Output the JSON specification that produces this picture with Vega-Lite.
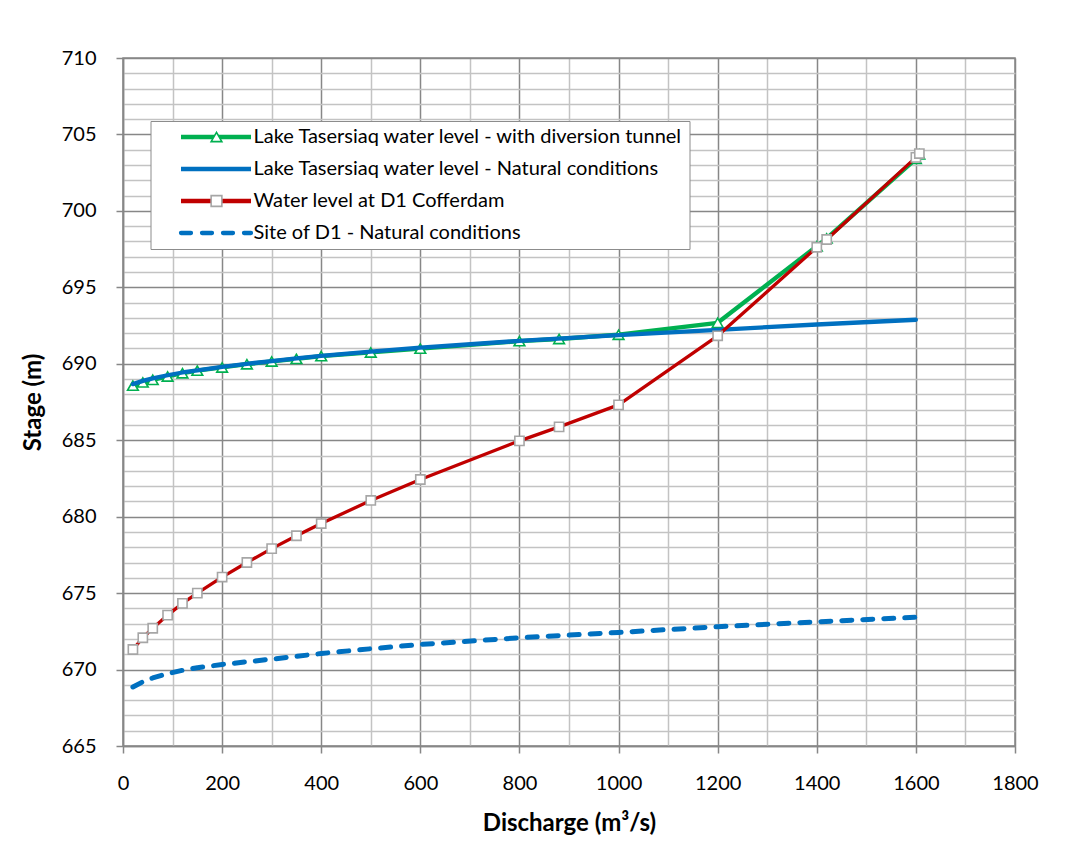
{
  "$schema": "https://vega.github.io/schema/vega-lite/v6.json",
  "autosize": {"type": "none"},
  "padding": {"left": 123, "top": 58, "right": 64, "bottom": 96},
  "width": 892,
  "height": 688,
  "background": "white",
  "config": {
    "font": "Lato",
    "view": {"stroke": "#878787", "strokeWidth": 1.5}
  },
  "data": {
    "values": [
      {"q": 20, "h": 688.57, "s": "Lake Tasersiaq water level - with diversion tunnel"},
      {"q": 40, "h": 688.78, "s": "Lake Tasersiaq water level - with diversion tunnel"},
      {"q": 60, "h": 688.95, "s": "Lake Tasersiaq water level - with diversion tunnel"},
      {"q": 90, "h": 689.17, "s": "Lake Tasersiaq water level - with diversion tunnel"},
      {"q": 120, "h": 689.38, "s": "Lake Tasersiaq water level - with diversion tunnel"},
      {"q": 150, "h": 689.55, "s": "Lake Tasersiaq water level - with diversion tunnel"},
      {"q": 200, "h": 689.76, "s": "Lake Tasersiaq water level - with diversion tunnel"},
      {"q": 250, "h": 689.97, "s": "Lake Tasersiaq water level - with diversion tunnel"},
      {"q": 300, "h": 690.15, "s": "Lake Tasersiaq water level - with diversion tunnel"},
      {"q": 350, "h": 690.32, "s": "Lake Tasersiaq water level - with diversion tunnel"},
      {"q": 400, "h": 690.50, "s": "Lake Tasersiaq water level - with diversion tunnel"},
      {"q": 500, "h": 690.74, "s": "Lake Tasersiaq water level - with diversion tunnel"},
      {"q": 600, "h": 690.99, "s": "Lake Tasersiaq water level - with diversion tunnel"},
      {"q": 800, "h": 691.48, "s": "Lake Tasersiaq water level - with diversion tunnel"},
      {"q": 880, "h": 691.62, "s": "Lake Tasersiaq water level - with diversion tunnel"},
      {"q": 1000, "h": 691.90, "s": "Lake Tasersiaq water level - with diversion tunnel"},
      {"q": 1200, "h": 692.68, "s": "Lake Tasersiaq water level - with diversion tunnel"},
      {"q": 1400, "h": 697.69, "s": "Lake Tasersiaq water level - with diversion tunnel"},
      {"q": 1420, "h": 698.20, "s": "Lake Tasersiaq water level - with diversion tunnel"},
      {"q": 1600, "h": 703.40, "s": "Lake Tasersiaq water level - with diversion tunnel"},
      {"q": 1607, "h": 703.70, "s": "Lake Tasersiaq water level - with diversion tunnel"},
      {"q": 20, "h": 688.67, "s": "Lake Tasersiaq water level - Natural conditions"},
      {"q": 40, "h": 688.88, "s": "Lake Tasersiaq water level - Natural conditions"},
      {"q": 60, "h": 689.05, "s": "Lake Tasersiaq water level - Natural conditions"},
      {"q": 90, "h": 689.25, "s": "Lake Tasersiaq water level - Natural conditions"},
      {"q": 120, "h": 689.43, "s": "Lake Tasersiaq water level - Natural conditions"},
      {"q": 150, "h": 689.57, "s": "Lake Tasersiaq water level - Natural conditions"},
      {"q": 200, "h": 689.80, "s": "Lake Tasersiaq water level - Natural conditions"},
      {"q": 250, "h": 690.00, "s": "Lake Tasersiaq water level - Natural conditions"},
      {"q": 300, "h": 690.18, "s": "Lake Tasersiaq water level - Natural conditions"},
      {"q": 350, "h": 690.35, "s": "Lake Tasersiaq water level - Natural conditions"},
      {"q": 400, "h": 690.52, "s": "Lake Tasersiaq water level - Natural conditions"},
      {"q": 500, "h": 690.80, "s": "Lake Tasersiaq water level - Natural conditions"},
      {"q": 600, "h": 691.05, "s": "Lake Tasersiaq water level - Natural conditions"},
      {"q": 800, "h": 691.50, "s": "Lake Tasersiaq water level - Natural conditions"},
      {"q": 1000, "h": 691.88, "s": "Lake Tasersiaq water level - Natural conditions"},
      {"q": 1200, "h": 692.22, "s": "Lake Tasersiaq water level - Natural conditions"},
      {"q": 1400, "h": 692.57, "s": "Lake Tasersiaq water level - Natural conditions"},
      {"q": 1600, "h": 692.88, "s": "Lake Tasersiaq water level - Natural conditions"},
      {"q": 20, "h": 671.31, "s": "Water level at D1 Cofferdam"},
      {"q": 40, "h": 672.08, "s": "Water level at D1 Cofferdam"},
      {"q": 60, "h": 672.70, "s": "Water level at D1 Cofferdam"},
      {"q": 90, "h": 673.56, "s": "Water level at D1 Cofferdam"},
      {"q": 120, "h": 674.33, "s": "Water level at D1 Cofferdam"},
      {"q": 150, "h": 675.00, "s": "Water level at D1 Cofferdam"},
      {"q": 200, "h": 676.05, "s": "Water level at D1 Cofferdam"},
      {"q": 250, "h": 677.00, "s": "Water level at D1 Cofferdam"},
      {"q": 300, "h": 677.91, "s": "Water level at D1 Cofferdam"},
      {"q": 350, "h": 678.75, "s": "Water level at D1 Cofferdam"},
      {"q": 400, "h": 679.55, "s": "Water level at D1 Cofferdam"},
      {"q": 500, "h": 681.06, "s": "Water level at D1 Cofferdam"},
      {"q": 600, "h": 682.43, "s": "Water level at D1 Cofferdam"},
      {"q": 800, "h": 684.96, "s": "Water level at D1 Cofferdam"},
      {"q": 880, "h": 685.87, "s": "Water level at D1 Cofferdam"},
      {"q": 1000, "h": 687.31, "s": "Water level at D1 Cofferdam"},
      {"q": 1200, "h": 691.83, "s": "Water level at D1 Cofferdam"},
      {"q": 1400, "h": 697.62, "s": "Water level at D1 Cofferdam"},
      {"q": 1420, "h": 698.13, "s": "Water level at D1 Cofferdam"},
      {"q": 1600, "h": 703.50, "s": "Water level at D1 Cofferdam"},
      {"q": 1607, "h": 703.75, "s": "Water level at D1 Cofferdam"},
      {"q": 20, "h": 668.86, "s": "Site of D1 - Natural conditions"},
      {"q": 40, "h": 669.20, "s": "Site of D1 - Natural conditions"},
      {"q": 60, "h": 669.45, "s": "Site of D1 - Natural conditions"},
      {"q": 90, "h": 669.73, "s": "Site of D1 - Natural conditions"},
      {"q": 120, "h": 669.95, "s": "Site of D1 - Natural conditions"},
      {"q": 150, "h": 670.12, "s": "Site of D1 - Natural conditions"},
      {"q": 200, "h": 670.33, "s": "Site of D1 - Natural conditions"},
      {"q": 300, "h": 670.68, "s": "Site of D1 - Natural conditions"},
      {"q": 400, "h": 671.05, "s": "Site of D1 - Natural conditions"},
      {"q": 500, "h": 671.36, "s": "Site of D1 - Natural conditions"},
      {"q": 600, "h": 671.64, "s": "Site of D1 - Natural conditions"},
      {"q": 800, "h": 672.08, "s": "Site of D1 - Natural conditions"},
      {"q": 1000, "h": 672.43, "s": "Site of D1 - Natural conditions"},
      {"q": 1200, "h": 672.80, "s": "Site of D1 - Natural conditions"},
      {"q": 1400, "h": 673.12, "s": "Site of D1 - Natural conditions"},
      {"q": 1600, "h": 673.42, "s": "Site of D1 - Natural conditions"}
    ]
  },
  "encoding": {
    "x": {
      "field": "q", "type": "quantitative",
      "scale": {"domain": [0, 1800], "nice": false, "zero": false},
      "axis": {
        "values": [0,100,200,300,400,500,600,700,800,900,1000,1100,1200,1300,1400,1500,1600,1700,1800],
        "format": "d",
        "labelExpr": "datum.value % 200 === 0 ? datum.label : ''",
        "grid": true,
        "gridColor": {"condition": {"test": "datum.value % 200 === 0", "value": "#878787"}, "value": "#c3c3c3"},
        "gridWidth": 1.5,
        "tickColor": "#878787", "tickSize": 7, "tickWidth": 1.5,
        "tickOpacity": {"condition": {"test": "datum.value % 200 === 0", "value": 1}, "value": 0},
        "domainColor": "#878787", "domainWidth": 1.5,
        "labelFont": "Lato", "labelFontSize": 20, "labelColor": "black", "labelPadding": 20,
        "labelFlush": false, "labelOverlap": false,
        "title": "Discharge (m³/s)", "titleFont": "Lato", "titleFontSize": 24, "titleFontWeight": "bold", "titleColor": "black",
        "titleY": 77, "titleBaseline": "middle"
      }
    },
    "y": {
      "field": "h", "type": "quantitative",
      "scale": {"domain": [665, 710], "nice": false, "zero": false},
      "axis": {
        "values": [665,666,667,668,669,670,671,672,673,674,675,676,677,678,679,680,681,682,683,684,685,686,687,688,689,690,691,692,693,694,695,696,697,698,699,700,701,702,703,704,705,706,707,708,709,710],
        "format": "d",
        "labelExpr": "datum.value % 5 === 0 ? datum.label : ''",
        "grid": true,
        "gridColor": {"condition": {"test": "datum.value % 5 === 0", "value": "#878787"}, "value": "#c3c3c3"},
        "gridWidth": 1.5,
        "tickColor": "#878787", "tickSize": 7, "tickWidth": 1.5,
        "tickOpacity": {"condition": {"test": "datum.value % 5 === 0", "value": 1}, "value": 0},
        "domainColor": "#878787", "domainWidth": 1.5,
        "labelFont": "Lato", "labelFontSize": 20, "labelColor": "black", "labelPadding": 20,
        "labelFlush": false, "labelOverlap": false,
        "title": "Stage (m)", "titleFont": "Lato", "titleFontSize": 24, "titleFontWeight": "bold", "titleColor": "black",
        "titleX": -90, "titleY": 344, "titleBaseline": "middle", "titleAngle": -90
      }
    }
  },
  "layer": [
    {
      "transform": [{"filter": {"field": "s", "equal": "Lake Tasersiaq water level - with diversion tunnel"}}],
      "mark": {"type": "line", "strokeWidth": 4.3, "strokeJoin": "round", "strokeCap": "round"},
      "encoding": {
        "color": {
          "field": "s", "type": "nominal",
          "scale": {
            "domain": ["Lake Tasersiaq water level - with diversion tunnel", "Lake Tasersiaq water level - Natural conditions", "Water level at D1 Cofferdam", "Site of D1 - Natural conditions"],
            "range": ["#00B050", "#0070C0", "#C00000", "#0070C0"]
          },
          "legend": {
            "orient": "none", "legendX": 27.5, "legendY": 63, "title": null,
            "padding": 6, "clipHeight": 20, "rowPadding": 12,
            "labelFont": "Lato", "labelFontSize": 20, "labelColor": "black", "labelLimit": 0,
            "symbolType": "stroke", "symbolSize": 4900, "symbolStrokeWidth": 4.3,
            "symbolOffset": 22, "labelOffset": 0,
            "fillColor": "white", "strokeColor": "#8c8c8c", "zindex": 1,
            "encode": {
              "symbols": {
                "update": {
                  "strokeDash": {"signal": "datum.value === 'Site of D1 - Natural conditions' ? [10, 11] : []"},
                  "strokeCap": {"signal": "datum.value === 'Site of D1 - Natural conditions' ? 'round' : 'butt'"}
                }
              }
            }
          }
        }
      }
    },
    {
      "transform": [{"filter": {"field": "s", "equal": "Lake Tasersiaq water level - with diversion tunnel"}}],
      "mark": {"type": "point", "filled": true, "fill": "white", "strokeWidth": 1.6, "size": 115, "opacity": 1},
      "encoding": {
        "shape": {
          "field": "s", "type": "nominal",
          "scale": {
            "domain": ["Lake Tasersiaq water level - with diversion tunnel", "Water level at D1 Cofferdam", "Lake Tasersiaq water level - Natural conditions", "Site of D1 - Natural conditions"],
            "range": ["triangle-up", "square", "M0,0", "M0,0"]
          },
          "legend": {
            "orient": "none", "legendX": 27.5, "legendY": 63, "title": null,
            "values": ["Lake Tasersiaq water level - with diversion tunnel", "Lake Tasersiaq water level - Natural conditions", "Water level at D1 Cofferdam", "Site of D1 - Natural conditions"],
            "padding": 6, "clipHeight": 20, "rowPadding": 12,
            "labelFont": "Lato", "labelFontSize": 20, "labelExpr": "''", "labelLimit": 0,
            "symbolSize": 115, "symbolStrokeWidth": 1.6, "symbolOffset": 50, "symbolFillColor": "white",
            "zindex": 2
          }
        },
        "stroke": {
          "field": "s", "type": "nominal",
          "scale": {
            "domain": ["Lake Tasersiaq water level - with diversion tunnel", "Water level at D1 Cofferdam", "Lake Tasersiaq water level - Natural conditions", "Site of D1 - Natural conditions"],
            "range": ["#00B050", "#A6A6A6", "#ffffff", "#ffffff"]
          },
          "legend": {
            "orient": "none", "legendX": 27.5, "legendY": 63, "title": null,
            "values": ["Lake Tasersiaq water level - with diversion tunnel", "Lake Tasersiaq water level - Natural conditions", "Water level at D1 Cofferdam", "Site of D1 - Natural conditions"],
            "padding": 6, "clipHeight": 20, "rowPadding": 12,
            "labelFont": "Lato", "labelFontSize": 20, "labelExpr": "''", "labelLimit": 0,
            "symbolSize": 115, "symbolStrokeWidth": 1.6, "symbolOffset": 50, "symbolFillColor": "white",
            "zindex": 2
          }
        }
      }
    },
    {
      "transform": [{"filter": {"field": "s", "equal": "Lake Tasersiaq water level - Natural conditions"}}],
      "mark": {"type": "line", "strokeWidth": 4.3, "strokeJoin": "round", "strokeCap": "round"},
      "encoding": {"color": {"field": "s", "type": "nominal"}}
    },
    {
      "transform": [{"filter": {"field": "s", "equal": "Water level at D1 Cofferdam"}}],
      "mark": {"type": "line", "strokeWidth": 3.3, "strokeJoin": "round", "strokeCap": "round"},
      "encoding": {"color": {"field": "s", "type": "nominal"}}
    },
    {
      "transform": [{"filter": {"field": "s", "equal": "Water level at D1 Cofferdam"}}],
      "mark": {"type": "point", "filled": true, "fill": "white", "strokeWidth": 1.6, "size": 85, "opacity": 1},
      "encoding": {
        "shape": {"field": "s", "type": "nominal"},
        "stroke": {"field": "s", "type": "nominal"}
      }
    },
    {
      "transform": [{"filter": {"field": "s", "equal": "Site of D1 - Natural conditions"}}],
      "mark": {"type": "line", "strokeWidth": 5, "strokeDash": [10, 11], "strokeCap": "round", "strokeJoin": "round"},
      "encoding": {"color": {"field": "s", "type": "nominal"}}
    }
  ]
}
